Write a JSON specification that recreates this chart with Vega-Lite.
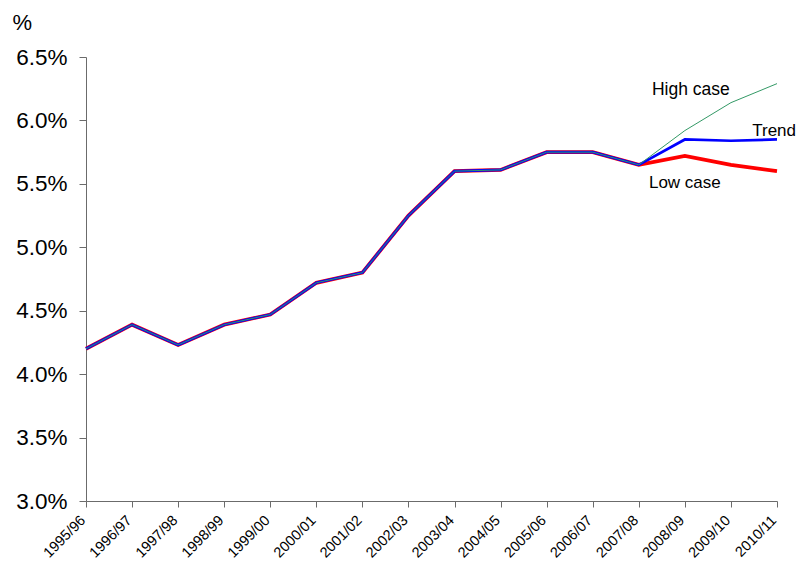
{
  "$schema": "https://vega.github.io/schema/vega-lite/v6.json",
  "autosize": {"type": "none"},
  "width": 691,
  "height": 444,
  "padding": {"left": 86, "top": 57, "right": 20, "bottom": 64},
  "background": "white",
  "config": {
    "view": {"stroke": null},
    "font": "Liberation Sans",
    "axis": {"grid": false, "domainColor": "#6b6b6b", "tickColor": "#6b6b6b", "labelColor": "black", "titleColor": "black", "labelFont": "Liberation Sans", "titleFont": "Liberation Sans"}
  },
  "datasets": {
    "series": [
      {"period": "1995/96", "series": "Low case", "value": 0.0420},
      {"period": "1996/97", "series": "Low case", "value": 0.0439},
      {"period": "1997/98", "series": "Low case", "value": 0.0423},
      {"period": "1998/99", "series": "Low case", "value": 0.0439},
      {"period": "1999/00", "series": "Low case", "value": 0.0447},
      {"period": "2000/01", "series": "Low case", "value": 0.0472},
      {"period": "2001/02", "series": "Low case", "value": 0.0480},
      {"period": "2002/03", "series": "Low case", "value": 0.0525},
      {"period": "2003/04", "series": "Low case", "value": 0.0560},
      {"period": "2004/05", "series": "Low case", "value": 0.0561},
      {"period": "2005/06", "series": "Low case", "value": 0.0575},
      {"period": "2006/07", "series": "Low case", "value": 0.0575},
      {"period": "2007/08", "series": "Low case", "value": 0.0565},
      {"period": "2008/09", "series": "Low case", "value": 0.0572},
      {"period": "2009/10", "series": "Low case", "value": 0.0565},
      {"period": "2010/11", "series": "Low case", "value": 0.0560},
      {"period": "1995/96", "series": "Trend", "value": 0.0420},
      {"period": "1996/97", "series": "Trend", "value": 0.0439},
      {"period": "1997/98", "series": "Trend", "value": 0.0423},
      {"period": "1998/99", "series": "Trend", "value": 0.0439},
      {"period": "1999/00", "series": "Trend", "value": 0.0447},
      {"period": "2000/01", "series": "Trend", "value": 0.0472},
      {"period": "2001/02", "series": "Trend", "value": 0.0480},
      {"period": "2002/03", "series": "Trend", "value": 0.0525},
      {"period": "2003/04", "series": "Trend", "value": 0.0560},
      {"period": "2004/05", "series": "Trend", "value": 0.0561},
      {"period": "2005/06", "series": "Trend", "value": 0.0575},
      {"period": "2006/07", "series": "Trend", "value": 0.0575},
      {"period": "2007/08", "series": "Trend", "value": 0.0565},
      {"period": "2008/09", "series": "Trend", "value": 0.0585},
      {"period": "2009/10", "series": "Trend", "value": 0.0584},
      {"period": "2010/11", "series": "Trend", "value": 0.0585},
      {"period": "1995/96", "series": "High case", "value": 0.0420},
      {"period": "1996/97", "series": "High case", "value": 0.0439},
      {"period": "1997/98", "series": "High case", "value": 0.0423},
      {"period": "1998/99", "series": "High case", "value": 0.0439},
      {"period": "1999/00", "series": "High case", "value": 0.0447},
      {"period": "2000/01", "series": "High case", "value": 0.0472},
      {"period": "2001/02", "series": "High case", "value": 0.0480},
      {"period": "2002/03", "series": "High case", "value": 0.0525},
      {"period": "2003/04", "series": "High case", "value": 0.0560},
      {"period": "2004/05", "series": "High case", "value": 0.0561},
      {"period": "2005/06", "series": "High case", "value": 0.0575},
      {"period": "2006/07", "series": "High case", "value": 0.0575},
      {"period": "2007/08", "series": "High case", "value": 0.0565},
      {"period": "2008/09", "series": "High case", "value": 0.0592},
      {"period": "2009/10", "series": "High case", "value": 0.0614},
      {"period": "2010/11", "series": "High case", "value": 0.0629}
    ],
    "labels": [
      {"period": "2008/09", "value": 0.0624, "label": "High case", "pos": "high"},
      {"period": "2010/11", "value": 0.0592, "label": "Trend", "pos": "right"},
      {"period": "2008/09", "value": 0.0551, "label": "Low case", "pos": "center"}
    ]
  },
  "encoding": {
    "x": {
      "field": "period", "type": "ordinal",
      "scale": {"type": "point", "padding": 0},
      "axis": {"title": null, "labelAngle": -45, "labelAlign": "right", "labelBaseline": "middle", "labelFontSize": 14.5, "tickSize": 6, "labelPadding": 11, "labelOffset": -3}
    },
    "y": {
      "field": "value", "type": "quantitative",
      "scale": {"domain": [0.03, 0.065], "nice": false, "zero": false},
      "axis": {"values": [0.03, 0.035, 0.04, 0.045, 0.05, 0.055, 0.06, 0.065], "format": ".1%", "labelFontSize": 22.5, "tickSize": 7, "labelPadding": 12, "title": "%", "titleAngle": 0, "titleFontSize": 22, "titleFontWeight": "normal", "titleAlign": "left", "titleBaseline": "middle", "titleX": -74, "titleY": -35}
    }
  },
  "layer": [
    {
      "data": {"name": "series"},
      "transform": [{"filter": "datum.series === 'Low case'"}],
      "mark": {"type": "line", "color": "#ff0000", "strokeWidth": 3.8}
    },
    {
      "data": {"name": "series"},
      "transform": [{"filter": "datum.series === 'Trend'"}],
      "mark": {"type": "line", "color": "#0000ff", "strokeWidth": 2.7}
    },
    {
      "data": {"name": "series"},
      "transform": [{"filter": "datum.series === 'High case'"}],
      "mark": {"type": "line", "color": "#339966", "strokeWidth": 1}
    },
    {
      "data": {"name": "labels"},
      "transform": [{"filter": "datum.pos === 'center'"}],
      "mark": {"type": "text", "fontSize": 17, "align": "center", "baseline": "middle", "color": "black"},
      "encoding": {"text": {"field": "label"}}
    },
    {
      "data": {"name": "labels"},
      "transform": [{"filter": "datum.pos === 'high'"}],
      "mark": {"type": "text", "fontSize": 17.5, "align": "center", "baseline": "middle", "color": "black", "dx": 6},
      "encoding": {"text": {"field": "label"}}
    },
    {
      "data": {"name": "labels"},
      "transform": [{"filter": "datum.pos === 'right'"}],
      "mark": {"type": "text", "fontSize": 17, "align": "right", "baseline": "middle", "color": "black", "dx": 19},
      "encoding": {"text": {"field": "label"}}
    }
  ]
}
